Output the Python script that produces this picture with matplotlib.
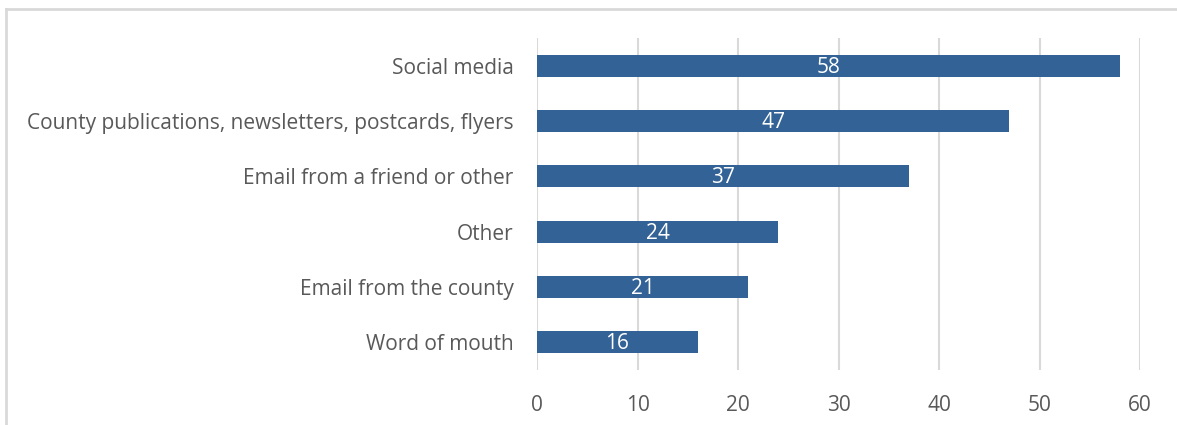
import matplotlib.pyplot as plt
from matplotlib.lines import Line2D

categories = ["Social media",
              "County publications, newsletters, postcards, flyers",
              "Email from a friend or other",
              "Other",
              "Email from the county",
              "Word of mouth"]
values = [58, 47, 37, 24, 21, 16]
xticks = [0, 10, 20, 30, 40, 50, 60]

bar_color = "#336296"
grid_color = "#D9D9D9"
text_color = "#595959"

plt.rcParams['font.family'] = ['Open Sans', 'DejaVu Sans']

fig = plt.figure(figsize=(11.77, 4.25), dpi=100)
ax = fig.add_axes([537/1177, 1 - 370/425, (1140-537)/1177, (370-38)/425])

ypos = list(range(len(categories)))
bars = ax.barh(ypos, values, height=0.4, color=bar_color, zorder=3)
for y, v in zip(ypos, values):
    ax.text(v / 2, y + 0.03, str(v), ha='center', va='center', color='white',
            fontsize=15, zorder=4)

ax.set_ylim(len(categories) - 0.5, -0.5)
ax.set_xlim(0, 60)
ax.set_xticks(xticks)
ax.set_xticklabels([str(t) for t in xticks])
ax.set_yticks(ypos)
ax.set_yticklabels(categories)
ax.tick_params(axis='both', length=0, labelsize=15, labelcolor=text_color)
ax.tick_params(axis='x', pad=18)
ax.tick_params(axis='y', pad=17)
ax.grid(axis='x', color=grid_color, linewidth=1.5, zorder=0)
for s in ax.spines.values():
    s.set_visible(False)

# outer chart frame
fig.add_artist(Line2D([5.5/1177, 1.0], [1 - 8.5/425, 1 - 8.5/425],
                      transform=fig.transFigure, color=grid_color, linewidth=2))
fig.add_artist(Line2D([5.5/1177, 5.5/1177], [0, 1 - 8.5/425],
                      transform=fig.transFigure, color=grid_color, linewidth=2))

fig.savefig("out.png", dpi=100)
